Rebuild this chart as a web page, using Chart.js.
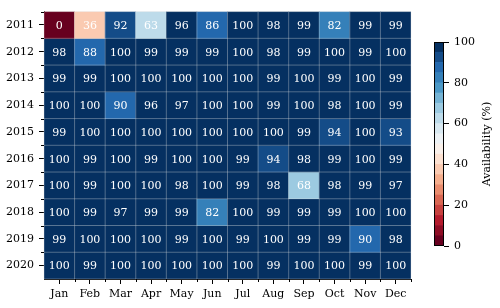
<!DOCTYPE html>
<html>
<head>
<meta charset="utf-8">
<script src="https://cdn.jsdelivr.net/npm/chart.js@4"></script>
<style>
	body { margin: 0; background: #fff; }
	#wrap { position: relative; width: 500px; height: 308px; }
	#heatmap { position: absolute; left: 0; top: 0; }
	#colorbar { position: absolute; left: 425px; top: 0; }
</style>
</head>
<body>
<div id="wrap">
	<canvas id="heatmap" width="500" height="308"></canvas>
	<canvas id="colorbar" width="75" height="308"></canvas>
</div>
<script>
	// tick labels
	var months = ['Jan', 'Feb', 'Mar', 'Apr', 'May', 'Jun', 'Jul', 'Aug', 'Sep', 'Oct', 'Nov', 'Dec'];
	var years = ['2011', '2012', '2013', '2014', '2015', '2016', '2017', '2018', '2019', '2020'];
	var colorbarTicks = [0, 20, 40, 60, 80, 100];

	// monthly availability (%) per year
	// (the two "90" cells are coloured one band lower, so they are a bit under 90)
	var avail2011 = [0, 36, 92, 63, 96, 86, 100, 98, 99, 82, 99, 99];
	var avail2012 = [98, 88, 100, 99, 99, 99, 100, 98, 99, 100, 99, 100];
	var avail2013 = [99, 99, 100, 100, 100, 100, 100, 99, 100, 99, 100, 99];
	var avail2014 = [100, 100, 89.6, 96, 97, 100, 100, 99, 100, 98, 100, 99];
	var avail2015 = [99, 100, 100, 100, 100, 100, 100, 100, 99, 94, 100, 93];
	var avail2016 = [100, 99, 100, 99, 100, 100, 99, 94, 98, 99, 100, 99];
	var avail2017 = [100, 99, 100, 100, 98, 100, 99, 98, 68, 98, 99, 97];
	var avail2018 = [100, 99, 97, 99, 99, 82, 100, 99, 99, 99, 100, 100];
	var avail2019 = [99, 100, 100, 100, 99, 100, 99, 100, 99, 99, 89.6, 98];
	var avail2020 = [100, 99, 100, 100, 100, 100, 100, 99, 100, 100, 99, 100];

	var rows = [avail2011, avail2012, avail2013, avail2014, avail2015,
		avail2016, avail2017, avail2018, avail2019, avail2020];

	Chart.defaults.font.family = "'DejaVu Serif', serif";
	Chart.defaults.font.size = 11;
	Chart.defaults.color = '#000';

	/**
	 * RdBu colormap cut into 20 bands (like get_cmap('RdBu', 20))
	 */
	var rdbuAnchors = ['#67001f', '#b2182b', '#d6604d', '#f4a582', '#fddbc7', '#f7f7f7',
		'#d1e5f0', '#92c5de', '#4393c3', '#2166ac', '#053061'];
	var nBands = 20;

	function hexToRgb(h) {
		return [parseInt(h.substr(1, 2), 16), parseInt(h.substr(3, 2), 16), parseInt(h.substr(5, 2), 16)];
	}

	function rdbu(t) {
		var pos = t * (rdbuAnchors.length - 1);
		var i = Math.min(Math.floor(pos), rdbuAnchors.length - 2);
		var f = pos - i;
		var a = hexToRgb(rdbuAnchors[i]);
		var b = hexToRgb(rdbuAnchors[i + 1]);
		var c = a.map(function (v, k) { return Math.round(v + (b[k] - v) * f); });
		return 'rgb(' + c[0] + ',' + c[1] + ',' + c[2] + ')';
	}

	function bandColor(band) {
		return rdbu(band / (nBands - 1));
	}

	function valueColor(v) {
		var band = Math.min(nBands - 1, Math.floor(v / 100 * nBands));
		return bandColor(band);
	}

	// one dataset per year, each cell a floating bar spanning its row
	var heatDatasets = years.map(function (yr, j) {
		return {
			label: yr,
			data: months.map(function () { return [j, j + 1]; }),
			backgroundColor: rows[j].map(valueColor),
			borderWidth: 0,
			grouped: false,
			barPercentage: 1,
			categoryPercentage: 1
		};
	});

	/**
	 * thin light lines between the cells, minor ticks at the cell edges
	 */
	var cellLines = {
		id: 'cellLines',
		afterDatasetsDraw: function (chart) {
			var ctx = chart.ctx;
			var x = chart.scales.x;
			var y = chart.scales.y;
			var area = chart.chartArea;
			ctx.save();
			ctx.lineWidth = 1;
			ctx.strokeStyle = 'rgba(225,225,225,0.35)';
			for (var i = 0; i <= months.length; i++) {
				var px = x.getPixelForValue(i - 0.5);
				ctx.beginPath();
				ctx.moveTo(px, area.top);
				ctx.lineTo(px, area.bottom);
				ctx.stroke();
			}
			for (var k = 0; k <= years.length; k++) {
				var py = y.getPixelForValue(k);
				ctx.beginPath();
				ctx.moveTo(area.left, py);
				ctx.lineTo(area.right, py);
				ctx.stroke();
			}
			// minor ticks
			ctx.strokeStyle = '#000';
			for (i = 1; i <= months.length; i++) {
				px = Math.round(x.getPixelForValue(i - 0.5)) + 0.5;
				ctx.beginPath();
				ctx.moveTo(px, area.bottom);
				ctx.lineTo(px, area.bottom + 3);
				ctx.stroke();
			}
			for (k = 0; k < years.length; k++) {
				py = Math.round(y.getPixelForValue(k)) + 0.5;
				ctx.beginPath();
				ctx.moveTo(area.left, py);
				ctx.lineTo(area.left - 3, py);
				ctx.stroke();
			}
			ctx.restore();
		}
	};

	/**
	 * the number in every cell
	 */
	var cellText = {
		id: 'cellText',
		afterDatasetsDraw: function (chart) {
			var ctx = chart.ctx;
			ctx.save();
			ctx.font = "11px 'DejaVu Serif'";
			ctx.fillStyle = '#fff';
			ctx.textAlign = 'center';
			ctx.textBaseline = 'middle';
			chart.data.datasets.forEach(function (ds, j) {
				chart.getDatasetMeta(j).data.forEach(function (bar, i) {
					var p = bar.getProps(['x', 'y', 'base'], true);
					ctx.fillText(String(Math.round(rows[j][i])), p.x, (p.y + p.base) / 2 + 1);
				});
			});
			ctx.restore();
		}
	};

	var heatCtx = document.getElementById('heatmap').getContext('2d');
	var heatmap = new Chart(heatCtx, {
		type: 'bar',
		data: { labels: months, datasets: heatDatasets },
		options: {
			responsive: false,
			animation: false,
			layout: { padding: { left: 0, top: 6, right: 89, bottom: 0 } },
			plugins: { legend: { display: false }, tooltip: { enabled: false } },
			scales: {
				x: {
					offset: true,
					grid: { offset: false, drawOnChartArea: false, tickLength: 5, tickColor: '#000' },
					border: { color: '#000', width: 1 },
					ticks: { padding: 4, color: '#000', maxRotation: 0 },
					afterFit: function (scale) { scale.height = 29; }
				},
				y: {
					min: 0,
					max: 10,
					reverse: true,
					grid: { drawOnChartArea: false, tickLength: 5, tickColor: '#000' },
					border: { color: '#000', width: 1 },
					ticks: {
						padding: 5,
						color: '#000',
						callback: function (value, index) { return years[index]; }
					},
					afterBuildTicks: function (scale) {
						scale.ticks = years.map(function (yr, j) { return { value: j + 0.5 }; });
					},
					afterFit: function (scale) { scale.width = 44; }
				}
			}
		},
		plugins: [cellLines, cellText]
	});

	// colorbar: 20 stacked bands on a 0-100 axis
	var bandDatasets = [];
	for (var b = 0; b < nBands; b++) {
		bandDatasets.push({
			data: [[b * 100 / nBands, (b + 1) * 100 / nBands]],
			backgroundColor: bandColor(b),
			borderWidth: 0,
			grouped: false,
			barPercentage: 1,
			categoryPercentage: 1
		});
	}

	var colorbarFrame = {
		id: 'colorbarFrame',
		afterDatasetsDraw: function (chart) {
			var ctx = chart.ctx;
			var a = chart.chartArea;
			ctx.save();
			ctx.strokeStyle = '#000';
			ctx.lineWidth = 1;
			ctx.strokeRect(Math.round(a.left) + 0.5, Math.round(a.top) + 0.5,
				Math.round(a.right - a.left) - 1, Math.round(a.bottom - a.top) - 1);
			ctx.restore();
		},
		afterDraw: function (chart) {
			var ctx = chart.ctx;
			var a = chart.chartArea;
			ctx.save();
			ctx.translate(62, (a.top + a.bottom) / 2);
			ctx.rotate(-Math.PI / 2);
			ctx.font = "11px 'DejaVu Serif'";
			ctx.fillStyle = '#000';
			ctx.textAlign = 'center';
			ctx.textBaseline = 'middle';
			ctx.fillText('Availability (%)', 0, 0);
			ctx.restore();
		}
	};

	var cbCtx = document.getElementById('colorbar').getContext('2d');
	var colorbar = new Chart(cbCtx, {
		type: 'bar',
		data: { labels: [''], datasets: bandDatasets },
		options: {
			responsive: false,
			animation: false,
			layout: { padding: { left: 9, top: 42, right: 6, bottom: 62 } },
			plugins: { legend: { display: false }, tooltip: { enabled: false } },
			scales: {
				x: { display: false },
				y: {
					position: 'right',
					min: 0,
					max: 100,
					grid: { drawOnChartArea: false, tickLength: 5, tickColor: '#000' },
					border: { display: false },
					ticks: { padding: 5, color: '#000', stepSize: 20 },
					afterBuildTicks: function (scale) {
						scale.ticks = colorbarTicks.map(function (v) { return { value: v }; });
					},
					afterFit: function (scale) { scale.width = 50; }
				}
			}
		},
		plugins: [colorbarFrame]
	});
</script>
</body>
</html>
